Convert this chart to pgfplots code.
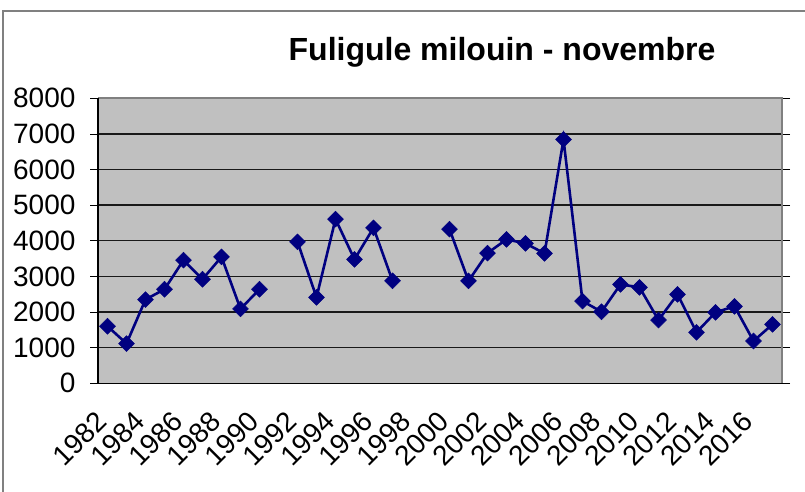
\documentclass[border=0pt]{standalone}
\usepackage{fontspec}
\setmainfont{Liberation Sans}
\usepackage{pgfplots}
\pgfplotsset{compat=1.18}
\definecolor{navy}{RGB}{0,0,128}
\definecolor{plotgray}{RGB}{192,192,192}
\definecolor{framegray}{RGB}{128,128,128}

\begin{document}
\begin{tikzpicture}[x=1pt,y=1pt]
\path[use as bounding box] (0,0) rectangle (805,492);
\draw[framegray, line width=1.5pt] (3,0) -- (3,481) -- (805,481);
\node[font=\bfseries\fontsize{32}{36}\selectfont] at (502,440) {Fuligule milouin - novembre};
\begin{axis}[
  at={(98pt,108.7pt)}, anchor=south west,
  scale only axis, width=684pt, height=285pt,
  xmin=1981.5, xmax=2017.5, ymin=0, ymax=8000,
  axis background/.style={fill=plotgray},
  axis line style={draw=none},
  ytick={0,1000,...,8000},
  ymajorgrids, grid style={black!90, line width=1.4pt},
  xtick={1982,1984,...,2016},
  xticklabels={1982,1984,1986,1988,1990,1992,1994,1996,1998,2000,2002,2004,2006,2008,2010,2012,2014,2016},
  minor xtick={1981.5,1982.5,...,2017.5},
  tick align=outside,
  major tick length=8pt, minor tick length=8pt,
  xtick style={draw=none},
  minor x tick style={black, line width=0.8pt},
  ytick style={black, line width=0.8pt},
  /pgf/number format/assume math mode=true,
  /pgf/number format/1000 sep={},
  yticklabel style={font=\fontsize{28}{30}\selectfont, xshift=-11pt},
  xticklabel style={font=\fontsize{28}{30}\selectfont, inner sep=0pt,
    anchor=east, xshift=-6pt, yshift=-25pt, rotate=45},
  unbounded coords=jump,
  clip=false,
]
\addplot[navy, line width=2.6pt, mark=square*, mark size=5.6pt,
  mark options={rotate=45, solid, fill=navy, line width=0.5pt}]
coordinates {
(1982,1601) (1983,1115) (1984,2351) (1985,2640) (1986,3455) (1987,2921)
(1988,3548) (1989,2087) (1990,2640) (1991,nan) (1992,3972) (1993,2412)
(1994,4609) (1995,3478) (1996,4365) (1997,2878) (1998,nan) (1999,nan)
(2000,4325) (2001,2874) (2002,3655) (2003,4039) (2004,3927) (2005,3646)
(2006,6844) (2007,2308) (2008,2008) (2009,2777) (2010,2693) (2011,1776)
(2012,2497) (2013,1431) (2014,1992) (2015,2160) (2016,1187) (2017,1655)
};
\draw[framegray, line width=2pt] (rel axis cs:0,1) -- (rel axis cs:1,1) -- (rel axis cs:1,0);
\draw[black, line width=1.3pt] (rel axis cs:0,1) -- (rel axis cs:0,0) -- (rel axis cs:1,0);
\end{axis}
\end{tikzpicture}
\end{document}
